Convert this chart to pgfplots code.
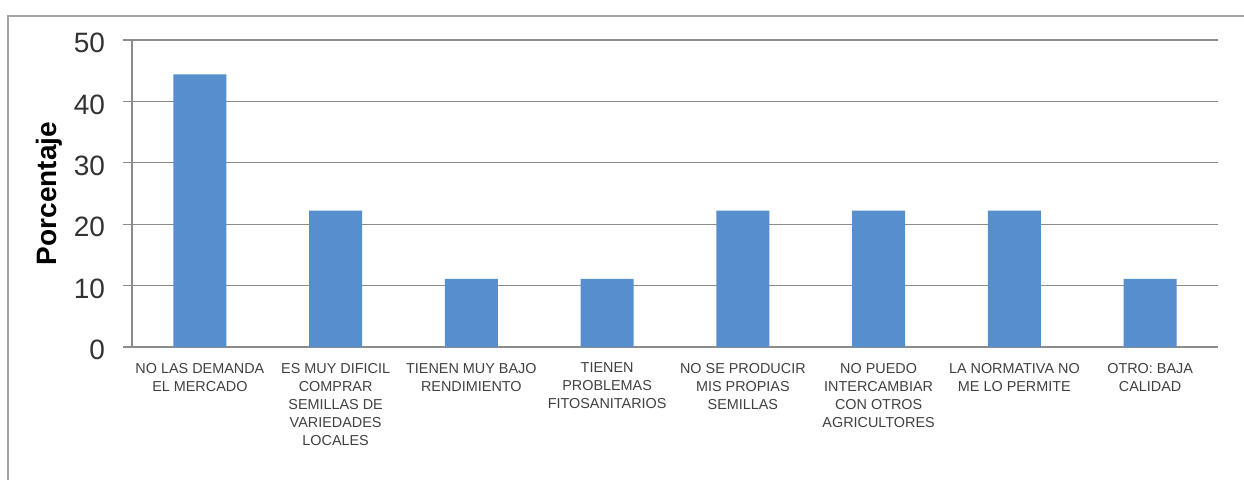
\documentclass[border=0pt]{standalone}
\usepackage{fontspec}
\setmainfont{Liberation Sans}
\usepackage{pgfplots}
\pgfplotsset{compat=1.18}
\definecolor{barblue}{RGB}{87,142,204}
\definecolor{gridgray}{RGB}{140,140,140}
\definecolor{framegray}{RGB}{165,165,165}
\begin{document}
\begin{tikzpicture}
\begin{axis}[
  at={(0,0)}, anchor=south west,
  scale only axis, width=543pt, height=153.5pt,
  xmin=-0.5, xmax=7.5, ymin=0, ymax=50,
  ytick={0,10,20,30,40,50},
  /pgf/number format/assume math mode=true,
  xtick=data,
  xticklabels={
    {NO LAS DEMANDA\\EL MERCADO},
    {ES MUY DIFICIL\\COMPRAR\\SEMILLAS DE\\VARIEDADES\\LOCALES},
    {TIENEN MUY BAJO\\RENDIMIENTO},
    {TIENEN\\PROBLEMAS\\FITOSANITARIOS},
    {NO SE PRODUCIR\\MIS PROPIAS\\SEMILLAS},
    {NO PUEDO\\INTERCAMBIAR\\CON OTROS\\AGRICULTORES},
    {LA NORMATIVA NO\\ME LO PERMITE},
    {OTRO: BAJA\\CALIDAD}},
  axis lines=left,
  axis line style={draw=gridgray, line width=0.6pt, -},
  ymajorgrids,
  major grid style={draw=gridgray, line width=0.6pt},
  tick align=outside,
  major tick length=4.5pt,
  ytick style={draw=gridgray, line width=0.6pt},
  xtick style={draw=none},
  yticklabel style={font=\fontsize{14}{16}\selectfont, text=black!80, xshift=-5.5pt, yshift=-1.5pt},
  xticklabel style={font=\fontsize{7.2}{9}\selectfont, align=center, text=black!75, yshift=0pt},
  ylabel={Porcentaje},
  ylabel style={at={(axis description cs:-0.0759,0.5)}, anchor=center, font=\bfseries\fontsize{14}{16}\selectfont},
]
\addplot[ybar, bar width=26.5pt, fill=barblue, draw=none] coordinates {
  (0,44.4) (1,22.2) (2,11.1) (3,11.1) (4,22.2) (5,22.2) (6,22.2) (7,11.1)
};
\end{axis}
\draw[framegray, line width=0.8pt] (-62pt,-80pt) -- (-62pt,165.5pt) -- (570pt,165.5pt);
\pgfresetboundingbox
\useasboundingbox (-66pt,-66pt) rectangle (556pt,173.5pt);
\end{tikzpicture}
\end{document}
